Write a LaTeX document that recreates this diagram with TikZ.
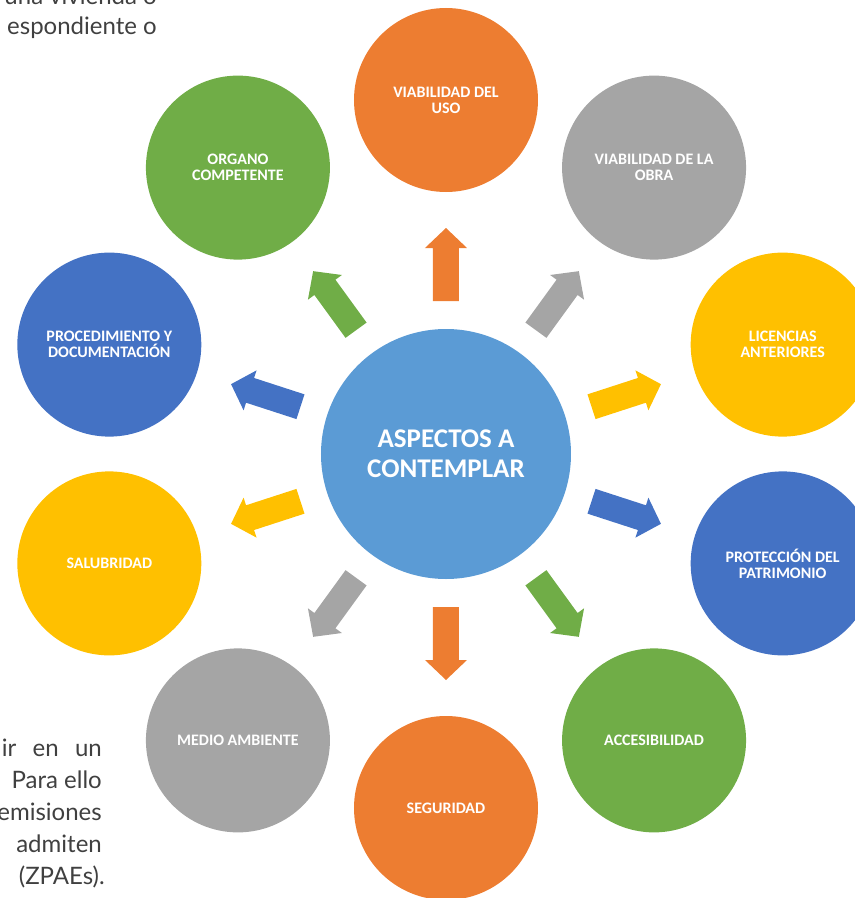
\documentclass[tikz,border=0pt]{standalone}
\usepackage{fontspec}
\setmainfont{Carlito}
\newfontfamily\bodyfont{Lato}
\definecolor{naranja}{HTML}{ED7D31}
\definecolor{gris}{HTML}{A5A5A5}
\definecolor{oro}{HTML}{FFC000}
\definecolor{azul}{HTML}{4472C4}
\definecolor{verde}{HTML}{70AD47}
\definecolor{celeste}{HTML}{5B9BD5}
\definecolor{texto}{HTML}{404040}

\begin{document}
\begin{tikzpicture}[x=1pt, y=1pt,
    aspect/.style={circle, minimum size=184pt, inner sep=0pt, text=white,
        font=\bfseries\fontsize{16}{16}\selectfont, align=center},
    body text/.style={anchor=base east, inner sep=0pt, text=texto,
        font=\bodyfont\fontsize{24}{31}\selectfont}]
    \useasboundingbox (-446,-444) rectangle (409,454);
    \clip (-446,-444) rectangle (409,454);
    % texto del documento (cortado)
    \node[body text] (txta) at (-289,449) {una vivienda o};
    \node[body text] (txtb) at (-289,419) {espondiente o};
    \node[body text] (txtc) at (-344,-302) {\makebox[100pt][s]{ir en un}};
    \node[body text] (txtd) at (-344,-334) {Para ello};
    \node[body text] (txte) at (-344,-366) {emisiones};
    \node[body text] (txtf) at (-344,-398) {admiten};
    \node[body text] (txtg) at (-341,-430) {(ZPAEs).};

    \node[circle, fill=celeste, minimum size=250pt, inner sep=0pt, text=white,
        font=\bfseries\fontsize{27}{30}\selectfont, align=center] (centro) at (0,0)
        {ASPECTOS A\\CONTEMPLAR};

    \foreach \ang/\col/\name/\txt in {
        90/naranja/uso/{VIABILIDAD DEL\\USO},
        54/gris/obra/{VIABILIDAD DE LA\\OBRA},
        18/oro/licencias/{LICENCIAS\\ANTERIORES},
        -18/azul/patrimonio/{PROTECCIÓN DEL\\PATRIMONIO},
        -54/verde/accesibilidad/{ACCESIBILIDAD},
        -90/naranja/seguridad/{SEGURIDAD},
        -126/gris/ambiente/{MEDIO AMBIENTE},
        -162/oro/salubridad/{SALUBRIDAD},
        162/azul/procedimiento/{PROCEDIMIENTO Y\\DOCUMENTACIÓN},
        126/verde/organo/{ORGANO\\COMPETENTE}}
    {
        \node[aspect, fill=\col] (\name) at (\ang:354) {\txt};
        \fill[\col, rotate=\ang] (153,-13) -- (206,-13) -- (206,-21) -- (226,0)
            -- (206,21) -- (206,13) -- (153,13) -- cycle;
    }
\end{tikzpicture}
\end{document}
